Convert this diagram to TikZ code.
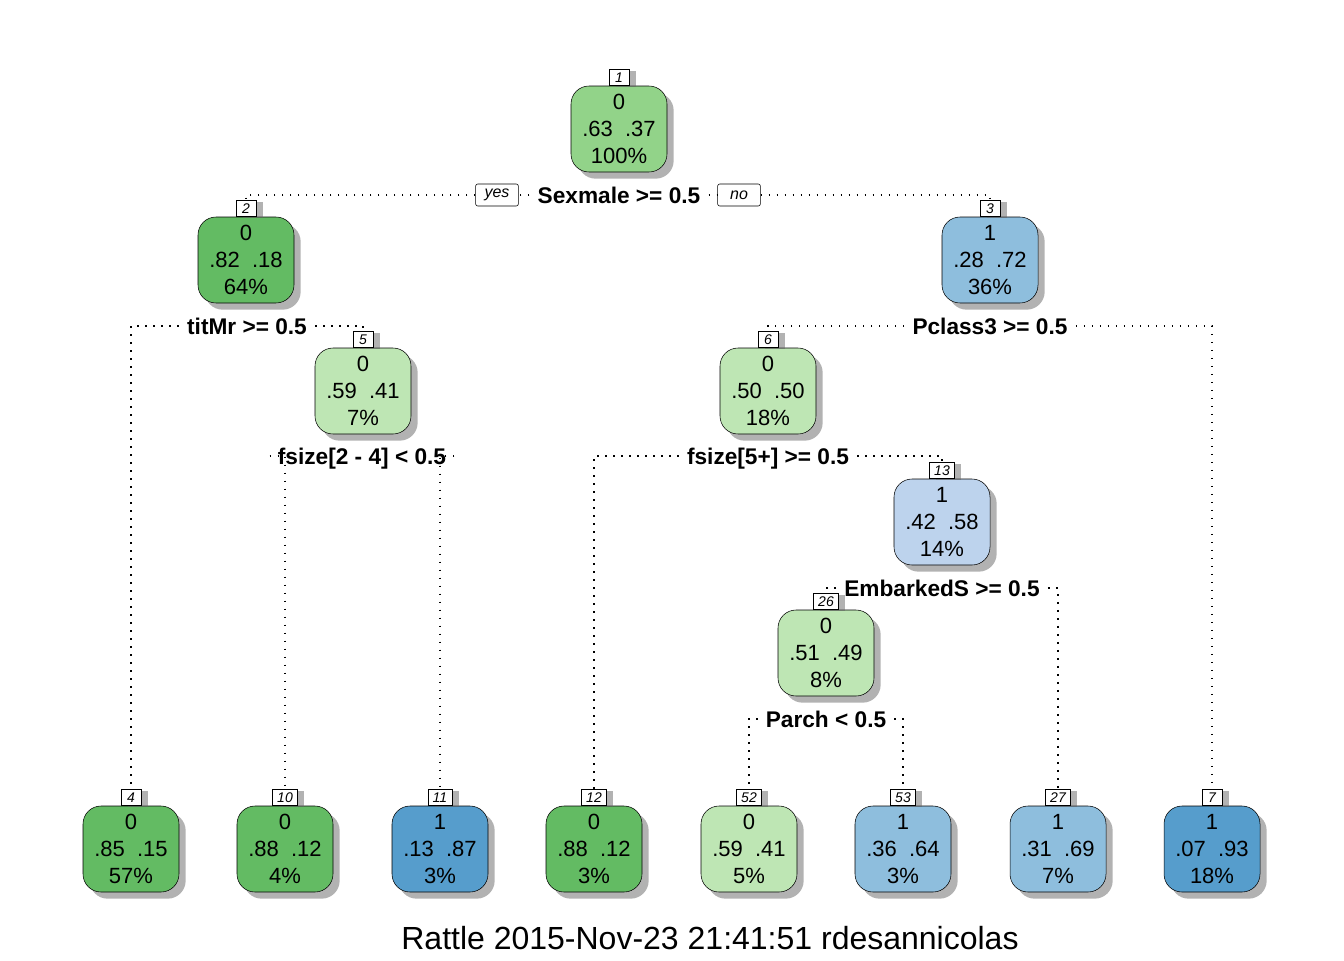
\documentclass[tikz,border=0pt]{standalone}
\usepackage{fontspec}
\setmainfont{Liberation Sans}
\usepackage{tikz}
\usetikzlibrary{positioning,shadows}
\definecolor{gDark}{RGB}{99,187,99}
\definecolor{gMid}{RGB}{146,211,137}
\definecolor{gLight}{RGB}{190,230,180}
\definecolor{bDark}{RGB}{86,157,204}
\definecolor{bMid}{RGB}{142,190,221}
\definecolor{bLight}{RGB}{189,211,237}
\tikzset{
  tbox/.style={draw, fill=#1, rounded corners=13.5pt, minimum width=72pt, minimum height=64.5pt,
    inner sep=0pt, align=center, font=\fontsize{16.5}{20.25}\selectfont,
    drop shadow={shadow xshift=5pt, shadow yshift=-5pt, fill=black!60}},
  numtag/.style={draw, fill=white, minimum width=15pt, minimum height=12pt, inner xsep=3.5pt,
    inner ysep=0pt, font=\fontsize{10.5}{12}\selectfont\itshape,
    drop shadow={shadow xshift=5pt, shadow yshift=-1pt, fill=black!60}},
  cond/.style={font=\fontsize{17}{18}\selectfont\bfseries, inner xsep=6pt, inner ysep=2pt,
    text height=12.2pt, text depth=0pt},
  yn/.style={draw, fill=white, rounded corners=1.5pt, minimum width=32pt, minimum height=16.5pt,
    inner sep=0pt, font=\fontsize{12}{14}\selectfont\itshape},
  dots/.style={line width=1.1pt, dash pattern=on 1.2pt off 4.8pt}
}
\begin{document}
\begin{tikzpicture}[x=0.75pt,y=-0.75pt]
	\useasboundingbox (0,0) rectangle (1344,960);

	% inner nodes
	\node[tbox=gMid] (N1) at (619,129) {0\\.63~~.37\\100\%};
	\node[tbox=gDark] (N2) at (246,260) {0\\.82~~.18\\64\%};
	\node[tbox=bMid] (N3) at (990,260) {1\\.28~~.72\\36\%};
	\node[tbox=gLight] (N5) at (363,391) {0\\.59~~.41\\7\%};
	\node[tbox=gLight] (N6) at (768,391) {0\\.50~~.50\\18\%};
	\node[tbox=bLight] (N13) at (942,522) {1\\.42~~.58\\14\%};
	\node[tbox=gLight] (N26) at (826,653) {0\\.51~~.49\\8\%};

	% leaves
	\node[tbox=gDark] (N4) at (131,849) {0\\.85~~.15\\57\%};
	\node[tbox=gDark] (N10) at (285,849) {0\\.88~~.12\\4\%};
	\node[tbox=bDark] (N11) at (440,849) {1\\.13~~.87\\3\%};
	\node[tbox=gDark] (N12) at (594,849) {0\\.88~~.12\\3\%};
	\node[tbox=gLight] (N52) at (749,849) {0\\.59~~.41\\5\%};
	\node[tbox=bMid] (N53) at (903,849) {1\\.36~~.64\\3\%};
	\node[tbox=bMid] (N27) at (1058,849) {1\\.31~~.69\\7\%};
	\node[tbox=bDark] (N7) at (1212,849) {1\\.07~~.93\\18\%};

	% number tags
	\foreach \n in {1,2,3,4,5,6,7,10,11,12,13,26,27,52,53}
		\node[numtag, above=0pt of N\n] (T\n) {\n};

	% split conditions
	\node[cond] (S1) at (619,195) {Sexmale >= 0.5};
	\node[yn] (Y1) at (497,195) {yes};
	\node[yn] (No1) at (739,195) {no};
	\node[cond] (S2) at (247,326) {titMr >= 0.5};
	\node[cond] (S3) at (990,326) {Pclass3 >= 0.5};
	\node[cond] (S5) at (362,456) {fsize[2 - 4] < 0.5};
	\node[cond] (S6) at (768,456) {fsize[5+] >= 0.5};
	\node[cond] (S13) at (942,588) {EmbarkedS >= 0.5};
	\node[cond] (S26) at (826,719) {Parch < 0.5};

	\draw[dots] (S1.west) -- (Y1.east);
	\draw[dots] (Y1.west) -| (T2.north);
	\draw[dots] (S1.east) -- (No1.west);
	\draw[dots] (No1.east) -| (T3.north);
	\draw[dots] (S2.west) -| (T4.north);
	\draw[dots] (S2.east) -| (T5.north);
	\draw[dots] (S3.west) -| (T6.north);
	\draw[dots] (S3.east) -| (T7.north);
	\draw[dots] (S5.west) -| (T10.north);
	\draw[dots] (S5.east) -| (T11.north);
	\draw[dots] (S6.west) -| (T12.north);
	\draw[dots] (S6.east) -| (T13.north);
	\draw[dots] (S13.west) -| (T26.north);
	\draw[dots] (S13.east) -| (T27.north);
	\draw[dots] (S26.west) -| (T52.north);
	\draw[dots] (S26.east) -| (T53.north);

	\node[font=\fontsize{24}{28}\selectfont] (F) at (710,938) {Rattle 2015-Nov-23 21:41:51 rdesannicolas};
\end{tikzpicture}
\end{document}
